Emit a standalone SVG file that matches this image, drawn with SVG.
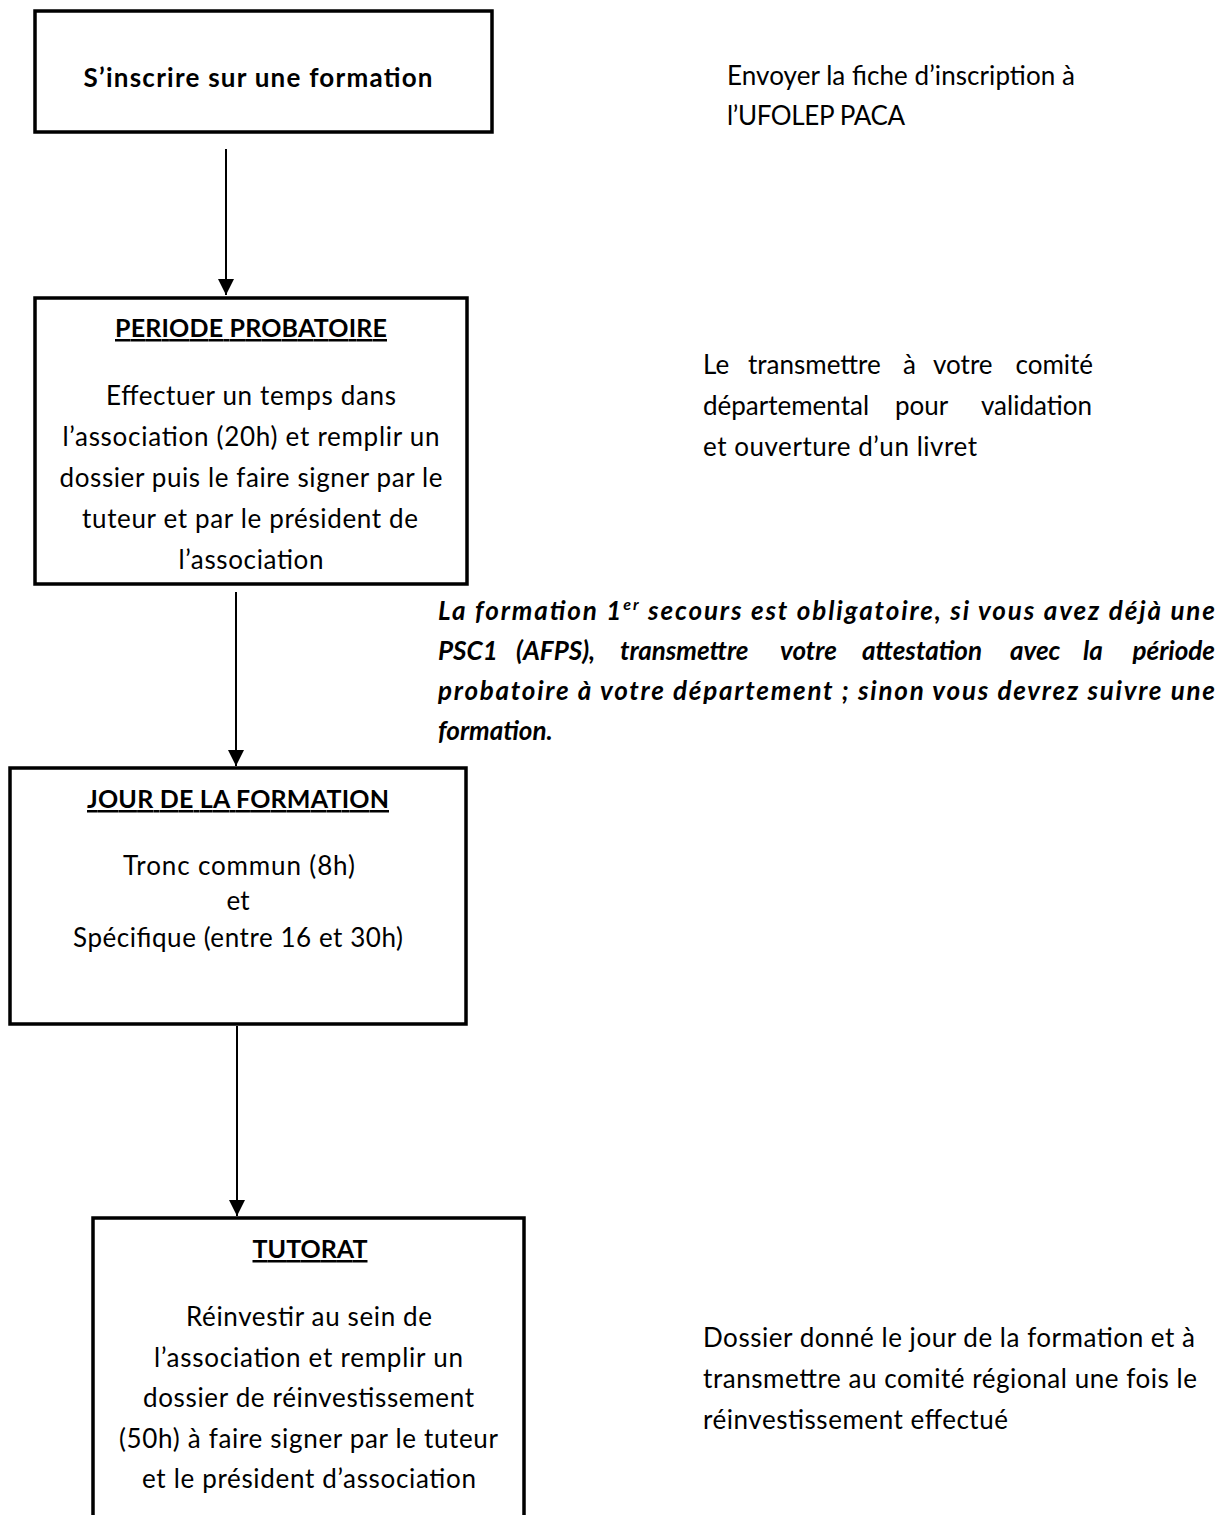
<svg xmlns="http://www.w3.org/2000/svg" width="1227" height="1515" viewBox="0 0 1227 1515">
  <style>
    .box { fill: #ffffff; stroke: #000000; stroke-width: 3.5; }
    .conn { stroke: #000000; stroke-width: 2; fill: none; }
    text { font-family: Lato, "Liberation Sans", sans-serif; fill: #000000; }
    .t { font-size: 26px; text-anchor: middle; }
    .title { font-size: 26px; font-weight: bold; text-anchor: middle; }
    .caps { font-size: 25px; }
    .ul { text-decoration: underline; }
    .note { font-size: 26px; }
    .it { font-size: 26px; font-weight: bold; font-style: italic; }
    .end { text-anchor: end; }
  </style>
  <defs>
    <marker id="arrow" markerUnits="userSpaceOnUse" markerWidth="16" markerHeight="16" refX="16" refY="8" orient="auto">
      <path d="M0,0 L16,8 L0,16 z" fill="#000000"/>
    </marker>
  </defs>
  <rect width="1227" height="1515" fill="#ffffff"/>

  <g id="connectors">
    <line class="conn" x1="226" y1="149" x2="226" y2="295" marker-end="url(#arrow)"/>
    <line class="conn" x1="236" y1="592" x2="236" y2="766" marker-end="url(#arrow)"/>
    <line class="conn" x1="237" y1="1026" x2="237" y2="1216" marker-end="url(#arrow)"/>
  </g>

  <g id="node-inscription">
    <rect class="box" x="35" y="11" width="457" height="121"/>
    <text class="title" x="258" y="87" textLength="349" lengthAdjust="spacing">S’inscrire sur une formation</text>
  </g>

  <g id="node-periode">
    <rect class="box" x="35" y="298" width="432" height="286"/>
    <text class="title caps ul" x="251" y="337" textLength="272" lengthAdjust="spacing">PERIODE PROBATOIRE</text>
    <text class="t" x="251" y="405" textLength="290" lengthAdjust="spacing">Effectuer un temps dans</text>
    <text class="t" x="251" y="446" textLength="377" lengthAdjust="spacing">l’association (20h) et remplir un</text>
    <text class="t" x="251" y="487" textLength="383" lengthAdjust="spacing">dossier puis le faire signer par le</text>
    <text class="t" x="250" y="528" textLength="336" lengthAdjust="spacing">tuteur et par le président de</text>
    <text class="t" x="251" y="569" textLength="145" lengthAdjust="spacing">l’association</text>
  </g>

  <g id="node-jour">
    <rect class="box" x="10" y="768" width="456" height="256"/>
    <text class="title caps ul" x="238" y="808" textLength="302" lengthAdjust="spacing">JOUR DE LA FORMATION</text>
    <text class="t" x="239" y="875" textLength="232" lengthAdjust="spacing">Tronc commun (8h)</text>
    <text class="t" x="238" y="910">et</text>
    <text class="t" x="238" y="947" textLength="330" lengthAdjust="spacing">Spécifique (entre 16 et 30h)</text>
  </g>

  <g id="node-tutorat">
    <rect class="box" x="93" y="1218" width="431" height="400"/>
    <text class="title caps ul" x="310" y="1258" textLength="115" lengthAdjust="spacing">TUTORAT</text>
    <text class="t" x="309" y="1326" textLength="246" lengthAdjust="spacing">Réinvestir au sein de</text>
    <text class="t" x="308.5" y="1367" textLength="309" lengthAdjust="spacing">l’association et remplir un</text>
    <text class="t" x="308.5" y="1407" textLength="331" lengthAdjust="spacing">dossier de réinvestissement</text>
    <text class="t" x="308.5" y="1448" textLength="379" lengthAdjust="spacing">(50h) à faire signer par le tuteur</text>
    <text class="t" x="309" y="1488" textLength="334" lengthAdjust="spacing">et le président d’association</text>
  </g>

  <g id="note-envoyer">
    <text class="note" x="727" y="85" textLength="348" lengthAdjust="spacing">Envoyer la fiche d’inscription à</text>
    <text class="note" x="727" y="125" textLength="178" lengthAdjust="spacing">l’UFOLEP PACA</text>
  </g>

  <g id="note-transmettre">
    <text class="note" y="374"><tspan x="703">Le</tspan><tspan x="748">transmettre</tspan><tspan x="903">à</tspan><tspan x="933">votre</tspan><tspan class="end" x="1093">comité</tspan></text>
    <text class="note" y="415"><tspan x="703">départemental</tspan><tspan x="895">pour</tspan><tspan class="end" x="1092">validation</tspan></text>
    <text class="note" x="703" y="456" textLength="274" lengthAdjust="spacing">et ouverture d’un livret</text>
  </g>

  <g id="note-secours">
    <text class="it" x="438" y="620" textLength="777" lengthAdjust="spacing">La formation 1<tspan font-size="16" dy="-10">er</tspan><tspan dy="10"> secours est obligatoire, si vous avez déjà une</tspan></text>
    <text class="it" y="660"><tspan x="438">PSC1</tspan><tspan x="516">(AFPS),</tspan><tspan x="620">transmettre</tspan><tspan x="780">votre</tspan><tspan x="862">attestation</tspan><tspan x="1010">avec</tspan><tspan x="1083">la</tspan><tspan class="end" x="1215">période</tspan></text>
    <text class="it" x="438" y="700" textLength="777" lengthAdjust="spacing">probatoire à votre département ; sinon vous devrez suivre une</text>
    <text class="it" x="438" y="740">formation.</text>
  </g>

  <g id="note-dossier">
    <text class="note" x="703" y="1347" textLength="492" lengthAdjust="spacing">Dossier donné le jour de la formation et à</text>
    <text class="note" x="703" y="1388" textLength="494" lengthAdjust="spacing">transmettre au comité régional une fois le</text>
    <text class="note" x="703" y="1429" textLength="305" lengthAdjust="spacing">réinvestissement effectué</text>
  </g>
</svg>
